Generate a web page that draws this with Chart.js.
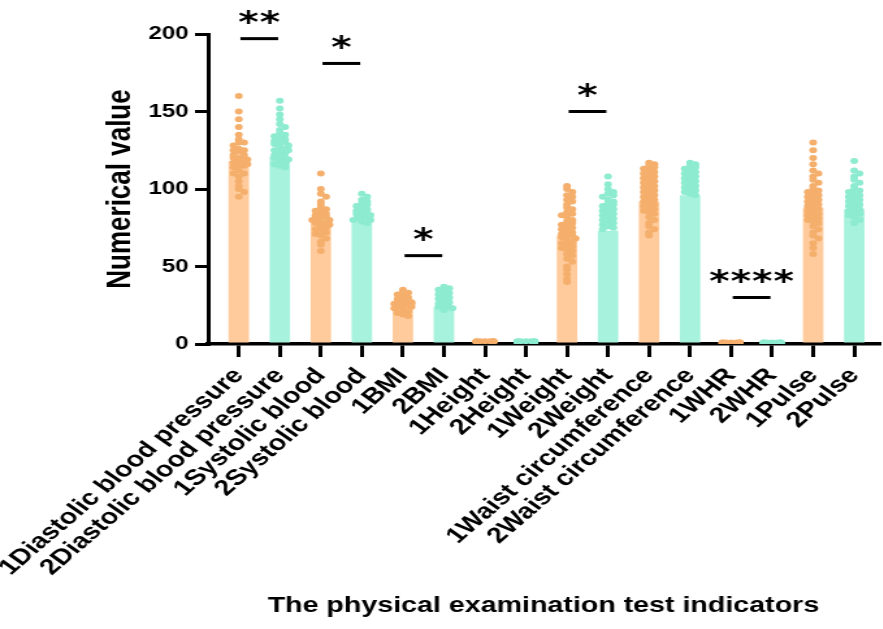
<!DOCTYPE html>
<html>
<head>
<meta charset="utf-8">
<script src="https://cdn.jsdelivr.net/npm/chart.js@4"></script>
<style>
  html, body { margin: 0; padding: 0; background: #fff; overflow: hidden; }
  /* the source figure is stretched sideways, so the chart is drawn narrow and widened */
  #wrap { width: 680px; height: 629px; transform: scaleX(1.3); transform-origin: 0 0; }
  canvas { display: block; }
</style>
</head>
<body>
<div id="wrap"><canvas id="myChart" width="680" height="629"></canvas></div>
<script>
const labels = [
    '1Diastolic blood pressure', '2Diastolic blood pressure',
    '1Systolic blood', '2Systolic blood',
    '1BMI', '2BMI', '1Height', '2Height', '1Weight', '2Weight',
    '1Waist circumference', '2Waist circumference',
    '1WHR', '2WHR', '1Pulse', '2Pulse'
];
const barMeans = [118, 121, 79, 80, 26, 24, 1.6, 1.6, 70, 73, 92, 96, 0.9, 0.9, 88, 87];

// individual dots per group
const groupPoints = [
    [160, 150, 145, 140, 135, 132, 130, 130, 128, 126, 125, 125, 124, 122, 122, 120, 120, 120, 119, 118, 118, 117, 116, 115, 115, 114, 112, 110, 110, 108, 105, 102, 100, 98, 95],
    [157, 152, 148, 145, 142, 140, 138, 136, 135, 134, 133, 132, 131, 130, 130, 129, 128, 127, 126, 125, 125, 124, 123, 122, 121, 120, 120, 119, 118, 117, 116, 115, 114],
    [110, 100, 97, 95, 92, 90, 88, 87, 86, 85, 84, 83, 82, 82, 81, 80, 80, 79, 78, 78, 77, 76, 75, 74, 73, 72, 71, 70, 68, 66, 64, 60],
    [97, 95, 93, 92, 91, 90, 89, 88, 87, 86, 85, 85, 84, 83, 82, 82, 81, 80, 80, 79, 78],
    [35, 34, 33, 32, 31, 30, 29, 28, 28, 27, 27, 26, 26, 25, 25, 24, 24, 23, 22, 21, 20, 19, 18],
    [37, 36, 35, 34, 33, 32, 31, 30, 29, 28, 27, 26, 25, 24, 24, 23, 22],
    [1.8, 1.75, 1.72, 1.7, 1.68, 1.65, 1.62, 1.6, 1.58, 1.55, 1.52, 1.5],
    [1.8, 1.76, 1.73, 1.7, 1.67, 1.64, 1.61, 1.59, 1.56, 1.53, 1.5],
    [102, 100, 98, 96, 95, 93, 92, 90, 88, 87, 85, 84, 83, 82, 80, 79, 78, 77, 76, 75, 74, 73, 72, 71, 70, 70, 69, 68, 67, 66, 65, 64, 63, 62, 61, 60, 58, 57, 55, 53, 50, 48, 45, 42, 40],
    [108, 103, 100, 98, 97, 96, 95, 93, 92, 91, 90, 89, 88, 87, 86, 85, 84, 83, 82, 81, 80, 79, 78, 77, 76, 75, 74],
    [117, 116, 115, 114, 113, 112, 111, 110, 109, 108, 107, 106, 105, 104, 103, 102, 101, 100, 99, 98, 97, 96, 95, 94, 93, 92, 91, 90, 89, 88, 87, 86, 85, 84, 82, 80, 78, 76, 74, 72, 70],
    [117, 116, 115, 114, 113, 112, 111, 110, 109, 108, 107, 106, 105, 104, 103, 102, 101, 100, 99, 98, 97, 96],
    [0.98, 0.95, 0.93, 0.92, 0.9, 0.89, 0.88, 0.87, 0.86, 0.85, 0.83, 0.8],
    [0.97, 0.95, 0.93, 0.91, 0.9, 0.89, 0.88, 0.87, 0.85, 0.84, 0.82],
    [130, 125, 120, 116, 112, 110, 108, 106, 104, 102, 100, 99, 98, 97, 96, 95, 94, 93, 92, 91, 90, 89, 88, 87, 86, 85, 84, 83, 82, 81, 80, 79, 78, 76, 74, 72, 70, 68, 65, 62, 58],
    [118, 112, 110, 108, 106, 104, 102, 100, 99, 98, 97, 96, 95, 94, 93, 92, 91, 90, 89, 88, 87, 86, 85, 84, 83, 82, 80, 78]
];

const sigPairs = [[0, 1], [2, 3], [4, 5], [8, 9], [12, 13]];
const sigStars = ['**', '*', '*', '*', '****'];
const sigLevel = [197, 181, 57, 150, 30];

const orangeBar = '#FFCB9D';
const greenBar = '#A7F2DC';
const orangeDot = '#F5AF6C';
const greenDot = '#8DEBCF';

// spread dots sideways inside the bar so they don't sit on top of each other
function swarm(vals, g) {
    let bins = {};
    return vals.map(v => {
        let b = Math.round(v / 3);
        bins[b] = (bins[b] || 0) + 1;
        let n = bins[b] - 1;
        let off = Math.ceil(n / 2) * 0.13 * (n % 2 ? 1 : -1);
        off = Math.max(-0.21, Math.min(0.21, off));
        return { x: g + off, y: v };
    });
}

let orangePts = [], greenPts = [];
groupPoints.forEach((vals, g) => {
    if (g % 2 === 0) orangePts = orangePts.concat(swarm(vals, g));
    else greenPts = greenPts.concat(swarm(vals, g));
});

const sigPlugin = {
    id: 'sig',
    afterDatasetsDraw(chart) {
        const { ctx, scales: { x, y } } = chart;
        ctx.save();
        ctx.fillStyle = '#000';
        ctx.strokeStyle = '#000';
        ctx.lineWidth = 3;
        ctx.font = 'bold 30px "DejaVu Sans"';
        ctx.textAlign = 'center';
        ctx.textBaseline = 'alphabetic';
        const m = ctx.measureText('*');
        const shift = (m.actualBoundingBoxAscent - m.actualBoundingBoxDescent) / 2;
        sigPairs.forEach((p, i) => {
            const mid = (x.getPixelForValue(p[0]) + x.getPixelForValue(p[1])) / 2;
            const ly = y.getPixelForValue(sigLevel[i]);
            ctx.beginPath();
            ctx.moveTo(mid - 14.5, ly);
            ctx.lineTo(mid + 14.5, ly);
            ctx.stroke();
            const n = sigStars[i].length;
            for (let k = 0; k < n; k++) {
                ctx.fillText('*', mid + (k - (n - 1) / 2) * 16.5, ly - 21 + shift);
            }
        });
        ctx.restore();
    }
};

let ctx = document.getElementById('myChart').getContext('2d');
let myChart = new Chart(ctx, {
    data: {
        datasets: [
            {
                type: 'scatter',
                data: orangePts,
                pointRadius: 3,
                pointBackgroundColor: orangeDot,
                pointBorderWidth: 0,
                order: 0
            },
            {
                type: 'scatter',
                data: greenPts,
                pointRadius: 3,
                pointBackgroundColor: greenDot,
                pointBorderWidth: 0,
                order: 0
            },
            {
                type: 'bar',
                data: barMeans.map((v, i) => ({ x: i, y: v })),
                backgroundColor: barMeans.map((v, i) => i % 2 ? greenBar : orangeBar),
                barPercentage: 0.5,
                categoryPercentage: 1,
                order: 1
            }
        ]
    },
    options: {
        responsive: false,
        animation: false,
        layout: { padding: { top: 34, left: 0, right: 0, bottom: 0 } },
        plugins: {
            legend: { display: false },
            tooltip: { enabled: false }
        },
        scales: {
            x: {
                type: 'linear',
                offset: false,
                min: -0.75,
                max: 15.6,
                grid: {
                    offset: false,
                    drawOnChartArea: false,
                    color: '#000',
                    lineWidth: 3,
                    tickLength: 13
                },
                border: { color: '#000', width: 3.5 },
                ticks: {
                    stepSize: 1,
                    includeBounds: false,
                    autoSkip: false,
                    minRotation: 48,
                    maxRotation: 48,
                    padding: 6,
                    color: '#000',
                    font: { family: '"Liberation Sans", Arial', size: 22, weight: 'bold' },
                    callback: v => labels[v] || ''
                },
                title: {
                    display: true,
                    text: 'The physical examination test indicators',
                    color: '#000',
                    font: { family: '"Liberation Sans", Arial', size: 22, weight: 'bold' },
                    padding: { top: 0, bottom: 10 }
                },
                afterFit: s => { s.height = 285; s.paddingLeft = 0; s.paddingRight = 0; }
            },
            y: {
                min: 0,
                max: 200,
                grid: {
                    drawOnChartArea: false,
                    color: '#000',
                    lineWidth: 3,
                    tickLength: 10
                },
                border: { color: '#000', width: 3 },
                ticks: {
                    stepSize: 50,
                    padding: 5,
                    color: '#000',
                    font: { family: '"Liberation Sans", Arial', size: 18.5, weight: 'bold' }
                },
                title: {
                    display: true,
                    text: 'Numerical value',
                    color: '#000',
                    font: { family: '"Liberation Sans", Arial', size: 26, weight: 'bold' },
                    padding: { top: 77, bottom: 0 }
                },
                afterFit: s => { s.width = 160; }
            }
        }
    },
    plugins: [sigPlugin]
});
</script>
</body>
</html>
